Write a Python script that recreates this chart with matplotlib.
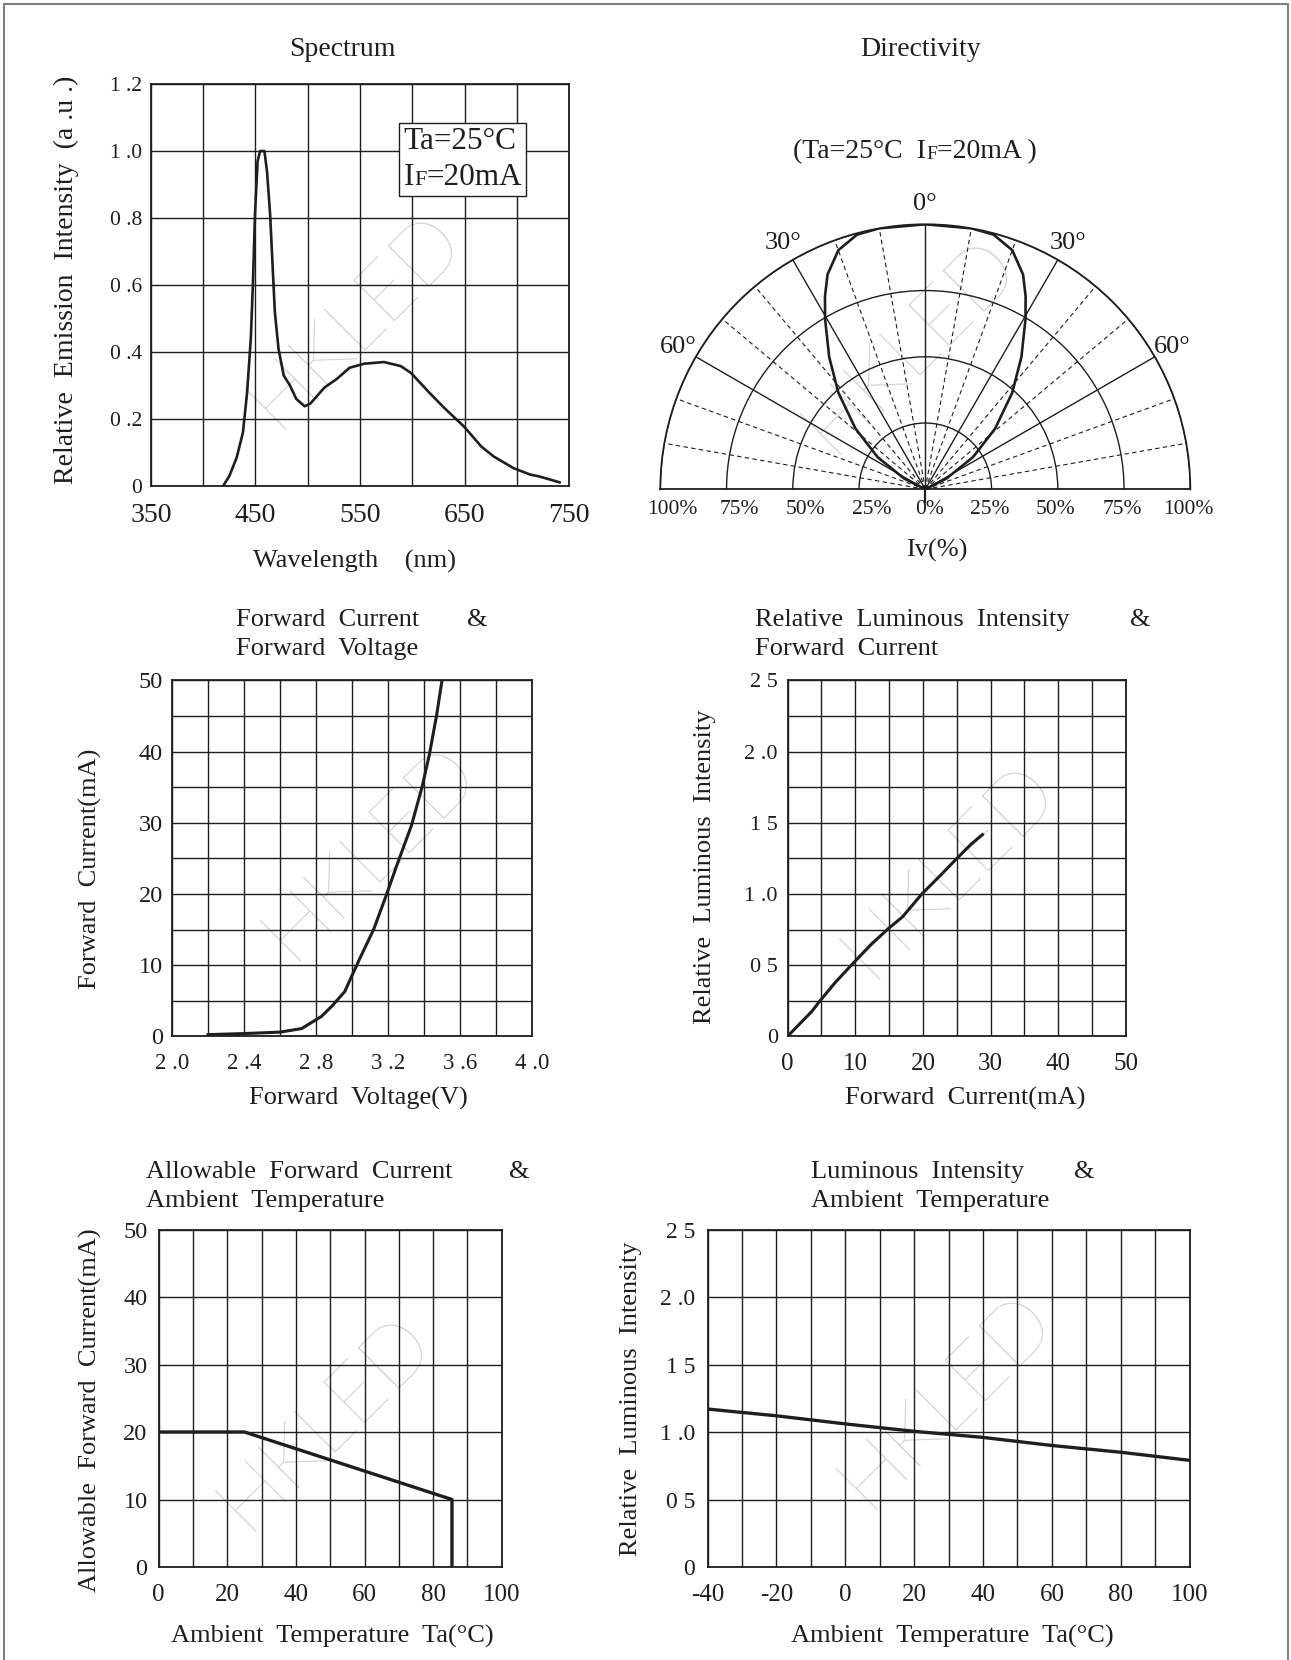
import numpy as np
import matplotlib
matplotlib.use("Agg")
import matplotlib.pyplot as plt
from matplotlib.offsetbox import TextArea, HPacker, VPacker, AnnotationBbox
from matplotlib.patches import Rectangle

plt.rcParams['font.family'] = ['Liberation Serif', 'DejaVu Serif']

W, H = 1291, 1660
INK = '#1e1e1e'
WM = '#c9c9c9'

# ---------------- data ----------------
# Spectrum
spec_wl = [419, 425, 432, 438, 442, 445.5, 447.5, 449.5, 452, 454.5, 458.5, 461, 464,
           468.5, 472, 477, 483, 489, 497, 502.5, 516, 528, 540, 554, 573, 589, 599,
           615, 630, 650, 666, 678, 697, 713, 721, 741]
spec_int = [0, 0.03, 0.085, 0.16, 0.28, 0.44, 0.60, 0.81, 0.97, 1.0, 1.0, 0.94, 0.81,
            0.52, 0.41, 0.33, 0.30, 0.26, 0.238, 0.246, 0.294, 0.32, 0.353, 0.365, 0.37,
            0.358, 0.337, 0.283, 0.235, 0.176, 0.118, 0.088, 0.053, 0.034, 0.029, 0.011]
spec_yticks = [0, 0.2, 0.4, 0.6, 0.8, 1.0, 1.2]
spec_ylabels = ['0', '0 .2', '0 .4', '0 .6', '0 .8', '1 .0', '1 .2']
spec_xticks = [350, 400, 450, 500, 550, 600, 650, 700, 750]
spec_xlabels = ['350', '', '450', '', '550', '', '650', '', '750']

# Directivity (one side, mirrored)
dir_angle = [0, 10, 15, 20, 24.5, 27.5, 30.5, 36, 42, 49, 56, 63, 66]
dir_rel = [1.0, 1.0, 0.995, 0.96, 0.89, 0.82, 0.745, 0.617, 0.49, 0.349, 0.217, 0.09, 0.0]
dir_rings = [0.25, 0.5, 0.75, 1.0]
dir_ring_labels = ['25%', '50%', '75%', '100%']
dir_solid = [-60, -30, 0, 30, 60]
dir_dashed = [-80, -70, -50, -40, -20, -10, 10, 20, 40, 50, 70, 80]
dir_angle_labels = [-60, -30, 0, 30, 60]

# Forward current vs forward voltage
vf = [2.2, 2.4, 2.6, 2.72, 2.83, 2.89, 2.96, 2.99, 3.05, 3.12, 3.19, 3.25, 3.33, 3.39,
      3.43, 3.47, 3.5]
if_vf = [0.25, 0.4, 0.6, 1.1, 2.8, 4.3, 6.3, 8.0, 11.3, 15.0, 19.8, 24.1, 29.6, 35.1,
         39.6, 45.1, 50]
vf_xticks = [2.0, 2.2, 2.4, 2.6, 2.8, 3.0, 3.2, 3.4, 3.6, 3.8, 4.0]
vf_xlabels = ['2 .0', '', '2 .4', '', '2 .8', '', '3 .2', '', '3 .6', '', '4 .0']
vf_yticks = [0, 5, 10, 15, 20, 25, 30, 35, 40, 45, 50]
vf_ylabels = ['0', '', '10', '', '20', '', '30', '', '40', '', '50']

# Relative luminous intensity vs forward current
iv_if = [0, 3.6, 4.6, 7.0, 9.7, 12.3, 14.9, 17.0, 19.9, 22.8, 25.0, 27.1, 28.8]
iv_rel = [0, 0.176, 0.238, 0.376, 0.514, 0.644, 0.757, 0.84, 1.003, 1.141, 1.249,
          1.349, 1.417]
iv_xticks = [0, 5, 10, 15, 20, 25, 30, 35, 40, 45, 50]
iv_xlabels = ['0', '', '10', '', '20', '', '30', '', '40', '', '50']
iv_yticks = [0, 0.25, 0.5, 0.75, 1.0, 1.25, 1.5, 1.75, 2.0, 2.25, 2.5]
iv_ylabels = ['0', '', '0 5', '', '1 .0', '', '1 5', '', '2 .0', '', '2 5']

# Allowable forward current vs ambient temperature
ta_allow = [0, 25, 85.5, 85.5]
if_allow = [20, 20, 10, 0]
al_xticks = [0, 10, 20, 30, 40, 50, 60, 70, 80, 90, 100]
al_xlabels = ['0', '', '20', '', '40', '', '60', '', '80', '', '100']
al_yticks = [0, 10, 20, 30, 40, 50]
al_ylabels = ['0', '10', '20', '30', '40', '50']

# Luminous intensity vs ambient temperature
ta_lum = [-40, -20, 0, 20, 40, 60, 80, 100]
lum_rel = [1.17, 1.12, 1.06, 1.005, 0.96, 0.90, 0.85, 0.79]
lt_xticks = list(range(-40, 101, 10))
lt_xlabels = ['-40', '', '-20', '', '0', '', '20', '', '40', '', '60', '', '80', '', '100']
lt_yticks = [0, 0.5, 1.0, 1.5, 2.0, 2.5]
lt_ylabels = ['0', '0 5', '1 .0', '1 5', '2 .0', '2 5']


def box(L, T, R, B):
    return [L / W, 1 - B / H, (R - L) / W, (B - T) / H]


def fx(px):
    return px / W


def fy(py):
    return 1 - py / H


def style(ax, xlim, ylim, xt, xl, yt, yl, xfs, yfs, xpad, ypad):
    ax.set_xlim(*xlim)
    ax.set_ylim(*ylim)
    ax.set_xticks(xt)
    ax.set_xticklabels(xl, fontsize=xfs)
    ax.set_yticks(yt)
    ax.set_yticklabels(yl, fontsize=yfs)
    ax.tick_params(axis='x', length=0, pad=xpad, colors=INK)
    ax.tick_params(axis='y', length=0, pad=ypad, colors=INK)
    ax.grid(True, color=INK, lw=1.0)
    for s in ax.spines.values():
        s.set_linewidth(1.3)
        s.set_color(INK)


def watermark(ax, cx, cy, size=60):
    ax.text(fx(cx), fy(cy), 'HKLED', transform=fig.transFigure, rotation=45,
            rotation_mode='anchor', ha='center', va='center', fontsize=size,
            color=WM, family=['Lato', 'DejaVu Sans'], fontweight='light', zorder=0.5)


def title2(ax, x, y1, y2, l1, l2, xamp, fs=19):
    ax.text(x, y1, l1, transform=ax.transAxes, ha='left', va='center', fontsize=fs, color=INK)
    ax.text(x, y2, l2, transform=ax.transAxes, ha='left', va='center', fontsize=fs, color=INK)
    ax.text(xamp, y1, '&', transform=ax.transAxes, ha='center', va='center', fontsize=fs, color=INK)


def if_label(parts, fs, small):
    # "I" followed by a small capital "F", sitting on the same baseline
    kids = []
    for txt, s in parts:
        kids.append(TextArea(txt, textprops=dict(fontsize=small if s else fs, color=INK)))
    return HPacker(children=kids, align='baseline', pad=0, sep=0)


def labels(ax, xlab, ylab, xc, yc, fs=19):
    ax.set_xlabel(xlab, fontsize=fs, color=INK)
    ax.xaxis.set_label_coords(*xc)
    ax.set_ylabel(ylab, fontsize=fs, color=INK)
    ax.yaxis.set_label_coords(*yc)


fig = plt.figure(figsize=(W / 100, H / 100), dpi=100)
fig.patches.append(Rectangle((fx(4), -0.01), fx(1284), 1 - 4 / H + 0.01, transform=fig.transFigure,
                             fill=False, edgecolor='#808080', lw=1.5))

# ---------------- Spectrum ----------------
ax1 = fig.add_axes(box(151, 84, 569, 486))
style(ax1, (350, 750), (0, 1.2), spec_xticks, spec_xlabels, spec_yticks, spec_ylabels,
      20, 15.5, 12, 6.5)
watermark(ax1, 355, 320)
ax1.plot(spec_wl, spec_int, color=INK, lw=1.9, zorder=3)
ax1.text(0.459, 1.085, 'Spectrum', transform=ax1.transAxes, ha='center', va='center',
         fontsize=20, color=INK)
ax1.set_ylabel('Relative  Emission  Intensity  (a .u .)', fontsize=20, color=INK)
ax1.yaxis.set_label_coords(-0.172, 0.512)
ax1.set_xlabel('Wavelength    (nm)', fontsize=19, color=INK)
ax1.xaxis.set_label_coords(0.486, -0.158)
cond = VPacker(children=[
    if_label([('Ta=25°C', False)], 22.5, 16),
    if_label([('I', False), ('F', True), ('=20mA', False)], 22.5, 16)],
    align='left', pad=0, sep=5)
ab = AnnotationBbox(cond, (0.746, 0.813), xycoords='axes fraction', box_alignment=(0.5, 0.5),
                    pad=0.25, bboxprops=dict(boxstyle='square,pad=0.3', fc='white',
                                             ec=INK, lw=1.0), zorder=4)
ax1.add_artist(ab)

# ---------------- Directivity ----------------
cx, cy, rad = 925.3, 489.3, 265
mid = cy - rad / 2
pax = fig.add_axes(box(cx - rad, mid - rad, cx + rad, mid + rad), projection='polar')
pax.set_theta_zero_location('N')
pax.set_theta_direction(-1)
pax.set_thetamin(-90)
pax.set_thetamax(90)
pax.set_ylim(0, 1)
pax.set_rgrids(dir_rings, labels=[''] * len(dir_rings))
pax.set_thetagrids(dir_solid, labels=[''] * len(dir_solid))
pax.grid(True, color=INK, lw=1.0)
for s in pax.spines.values():
    s.set_linewidth(1.3)
    s.set_color(INK)
watermark(pax, 910, 345)
for a in dir_dashed:
    pax.plot([np.deg2rad(a)] * 2, [0, 1], color=INK, lw=0.8, ls=(0, (4, 3)), zorder=2)
ang = np.array(dir_angle)
rel = np.array(dir_rel)
th = np.deg2rad(np.r_[-ang[::-1], ang[1:]])
rr = np.r_[rel[::-1], rel[1:]]
pax.plot(th, rr, color=INK, lw=1.9, zorder=3)
pax.plot([np.pi, np.pi], [0, 0.047], color=INK, lw=1.6, clip_on=False)
for a in dir_angle_labels:
    pax.text(np.deg2rad(a), 1.075, f'{abs(a)}°', ha='center', va='center', fontsize=19,
             color=INK)
for side in (-1, 1):
    for r, lab in zip(dir_rings, dir_ring_labels):
        pax.annotate(lab, xy=(side * np.pi / 2, r), xytext=(9 if side < 0 else -1.5, -14.5),
                     textcoords='offset points', ha='center', va='center', fontsize=15.5,
                     color=INK, annotation_clip=False)
pax.annotate('0%', xy=(0, 0), xytext=(3, -14.5), textcoords='offset points',
             ha='center', va='center', fontsize=15.5, color=INK, annotation_clip=False)
fig.text(fx(921), fy(50), 'Directivity', ha='center', va='center', fontsize=20, color=INK)
fig.text(fx(937), fy(550), 'Iv(%)', ha='center', va='center', fontsize=19, color=INK)
cond2 = if_label([('(Ta=25°C  I', False), ('F', True), ('=20mA )', False)], 20, 14)
fig.add_artist(AnnotationBbox(cond2, (fx(915), fy(152)), xycoords='figure fraction',
                              frameon=False, box_alignment=(0.5, 0.5)))

# ---------------- Forward current vs forward voltage ----------------
ax3 = fig.add_axes(box(172, 680.4, 532, 1036.4))
style(ax3, (2.0, 4.0), (0, 50), vf_xticks, vf_xlabels, vf_yticks, vf_ylabels, 16.5, 17.5, 12, 6.5)
watermark(ax3, 370, 852)
ax3.plot(vf, if_vf, color=INK, lw=2.2, zorder=3)
title2(ax3, 0.179, 1.169, 1.088, 'Forward  Current', 'Forward  Voltage', 0.849)
labels(ax3, 'Forward  Voltage(V)', 'Forward  Current(mA)', (0.517, -0.142), (-0.194, 0.471))

# ---------------- Relative luminous intensity vs forward current ----------------
ax4 = fig.add_axes(box(787.5, 680.4, 1126, 1036.4))
style(ax4, (0, 50), (0, 2.5), iv_xticks, iv_xlabels, iv_yticks, iv_ylabels, 18, 16, 12, 7)
watermark(ax4, 949, 870)
ax4.plot(iv_if, iv_rel, color=INK, lw=2.2, zorder=3)
title2(ax4, -0.097, 1.169, 1.088, 'Relative  Luminous  Intensity', 'Forward  Current', 1.041)
labels(ax4, 'Forward  Current(mA)', 'Relative  Luminous  Intensity', (0.524, -0.142), (-0.210, 0.476))

# ---------------- Allowable forward current vs ambient temperature ----------------
ax5 = fig.add_axes(box(158.7, 1229.5, 501.7, 1567))
style(ax5, (0, 100), (0, 50), al_xticks, al_xlabels, al_yticks, al_ylabels, 18, 17.5, 12, 8)
watermark(ax5, 325, 1422)
ax5.plot(ta_allow, if_allow, color=INK, lw=2.4, zorder=3)
title2(ax5, -0.037, 1.170, 1.084, 'Allowable  Forward  Current', 'Ambient  Temperature', 1.050)
labels(ax5, 'Ambient  Temperature  Ta(°C)', 'Allowable  Forward  Current(mA)', (0.505, -0.173), (-0.164, 0.465))

# ---------------- Luminous intensity vs ambient temperature ----------------
ax6 = fig.add_axes(box(707.5, 1229.5, 1189.7, 1567))
style(ax6, (-40, 100), (0, 2.5), lt_xticks, lt_xlabels, lt_yticks, lt_ylabels, 18, 17, 12, 9)
watermark(ax6, 946, 1400)
ax6.plot(ta_lum, lum_rel, color=INK, lw=2.4, zorder=3)
title2(ax6, 0.214, 1.170, 1.084, 'Luminous  Intensity', 'Ambient  Temperature', 0.782)
labels(ax6, 'Ambient  Temperature  Ta(°C)', 'Relative  Luminous  Intensity', (0.508, -0.173), (-0.136, 0.499))

fig.savefig('out.png', dpi=100)
